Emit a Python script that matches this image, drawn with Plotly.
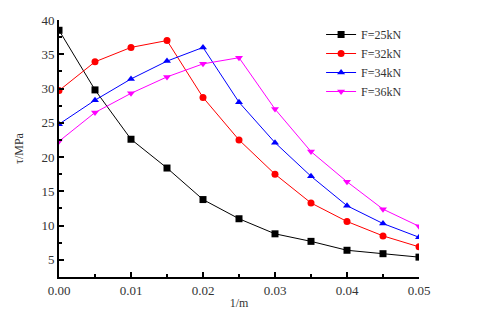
import plotly.graph_objects as go

x_vals = [0.0, 0.005, 0.01, 0.015, 0.02, 0.025, 0.03, 0.035, 0.04, 0.045, 0.05]
f25 = [38.5, 29.8, 22.6, 18.4, 13.8, 11.0, 8.8, 7.7, 6.4, 5.9, 5.4]
f32 = [29.7, 33.9, 36.0, 37.0, 28.7, 22.5, 17.5, 13.3, 10.6, 8.5, 6.9]
f34 = [24.8, 28.3, 31.4, 34.0, 36.0, 28.0, 22.1, 17.2, 12.9, 10.3, 8.3]
f36 = [22.3, 26.5, 29.3, 31.7, 33.6, 34.5, 27.0, 20.8, 16.4, 12.4, 9.9]

series = [
    ("F=25kN", f25, "#000000", "square"),
    ("F=32kN", f32, "#FF0000", "circle"),
    ("F=34kN", f34, "#0000FF", "triangle-up"),
    ("F=36kN", f36, "#FF00FF", "triangle-down"),
]

FONT = "Liberation Serif, Times New Roman, serif"

fig = go.Figure()
for name, ys, color, symbol in series:
    fig.add_trace(
        go.Scatter(
            x=x_vals,
            y=ys,
            mode="lines+markers",
            name=name,
            line=dict(color=color, width=1),
            marker=dict(color=color, symbol=symbol, size=7),
        )
    )

axis_common = dict(
    showline=True,
    linecolor="black",
    linewidth=2,
    ticks="inside",
    ticklen=5,
    tickwidth=1.5,
    tickcolor="black",
    showgrid=False,
    zeroline=False,
    automargin=False,
    tickfont=dict(family=FONT, size=13, color="#333333"),
    mirror=False,
)

fig.update_xaxes(
    range=[0, 0.05],
    dtick=0.01,
    tickformat=".2f",
    title=dict(text="1/m", font=dict(family=FONT, size=12, color="#333333"), standoff=2),
    minor=dict(ticks="inside", ticklen=3, dtick=0.005, tickcolor="black"),
    **axis_common,
)
fig.update_yaxes(
    range=[2.5, 40],
    tickvals=[5, 10, 15, 20, 25, 30, 35, 40],
    title=dict(text="τ/MPa", font=dict(family=FONT, size=12, color="#333333"), standoff=15),
    minor=dict(ticks="inside", ticklen=3, tickvals=[2.5, 7.5, 12.5, 17.5, 22.5, 27.5, 32.5, 37.5], tickcolor="black"),
    **axis_common,
)

fig.update_layout(
    width=480,
    height=320,
    margin=dict(l=51, r=69, t=12, b=51),
    plot_bgcolor="white",
    paper_bgcolor="white",
    legend=dict(
        x=0.728,
        y=1.0,
        xanchor="left",
        yanchor="top",
        font=dict(family=FONT, size=12, color="#333333"),
        bgcolor="rgba(0,0,0,0)",
        tracegroupgap=0,
        itemwidth=30,
    ),
)

fig.write_html("out.html")
